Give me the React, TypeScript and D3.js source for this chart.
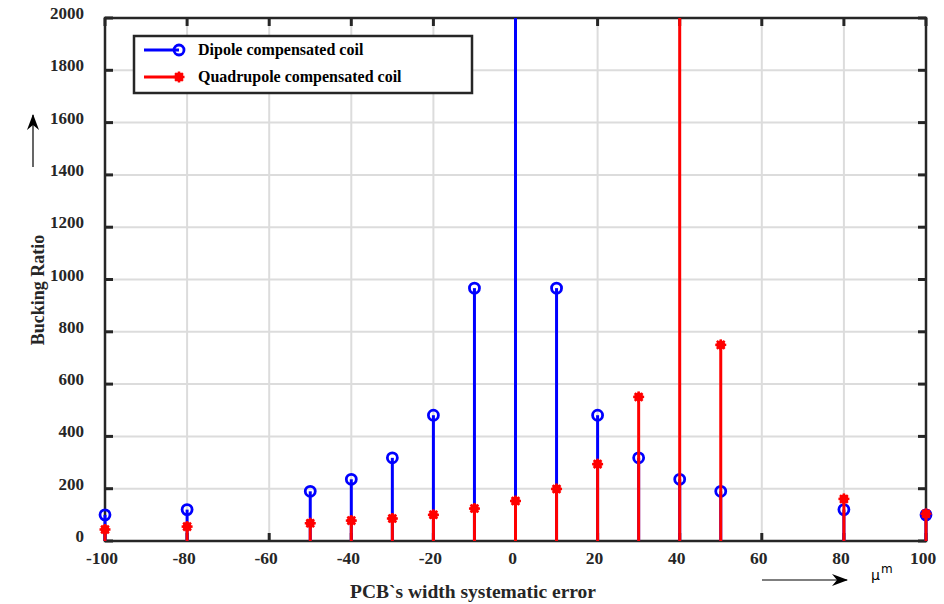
import React from "react";
import * as d3 from "d3";

const xTicks = [-100, -80, -60, -40, -20, 0, 20, 40, 60, 80, 100];
const yTicks = [0, 200, 400, 600, 800, 1000, 1200, 1400, 1600, 1800, 2000];
const errors = [-100, -80, -50, -40, -30, -20, -10, 0, 10, 20, 30, 40, 50, 80, 100];
const dipole = [100, 120, 190, 236, 318, 481, 967, 5000, 967, 481, 318, 236, 190, 120, 100];
const quadrupole = [44, 55, 68, 78, 86, 100, 124, 153, 199, 294, 551, 5000, 750, 161, 104];
const seriesNames = ["Dipole compensated coil", "Quadrupole compensated coil"];

const W = 944, H = 604;
const L = 105, R = 926, T = 18, B = 541;
const AX = "#262626";
const FONT = "'Liberation Serif', 'Times New Roman', serif";

function RedMark({ cx, cy }: { cx: number; cy: number }) {
  const r = 5.5;
  const lines = [0, 45, 90, 135].map((a) => {
    const rad = (a * Math.PI) / 180;
    return (
      <line key={a} x1={cx - r * Math.cos(rad)} y1={cy - r * Math.sin(rad)} x2={cx + r * Math.cos(rad)} y2={cy + r * Math.sin(rad)} stroke="#ff0000" strokeWidth={2.5} />
    );
  });
  return (
    <g>
      <circle cx={cx} cy={cy} r={4.5} fill="#ff0000" />
      {lines}
    </g>
  );
}

export default function App() {
  const x = d3.scaleLinear().domain([-100, 100]).range([L, R]);
  const y = d3.scaleLinear().domain([0, 2000]).range([B, T]);
  return (
    <svg width={W} height={H} style={{ position: "absolute", left: 0, top: 0, background: "#fff" }}>
      <defs>
        <clipPath id="plotclip">
          <rect x={L - 10} y={T} width={R - L + 20} height={B - T + 10} />
        </clipPath>
        <marker id="arr" viewBox="0 0 16 12" refX="15" refY="6" markerWidth="16" markerHeight="12" markerUnits="userSpaceOnUse" orient="auto">
          <path d="M0,0 L16,6 L0,12 L5,6 Z" fill="#000" />
        </marker>
      </defs>
      <rect x={0} y={0} width={W} height={H} fill="#fff" />
      {xTicks.map((t) => (
        <line key={"gx" + t} x1={x(t)} x2={x(t)} y1={T} y2={B} stroke="#dcdcdc" strokeWidth={2} />
      ))}
      {yTicks.map((t) => (
        <line key={"gy" + t} x1={L} x2={R} y1={y(t)} y2={y(t)} stroke="#dcdcdc" strokeWidth={2} />
      ))}
      {xTicks.map((t) => (
        <g key={"tx" + t}>
          <line x1={x(t)} x2={x(t)} y1={B} y2={B - 8} stroke={AX} strokeWidth={3} />
          <line x1={x(t)} x2={x(t)} y1={T} y2={T + 8} stroke={AX} strokeWidth={3} />
        </g>
      ))}
      {yTicks.map((t) => (
        <g key={"ty" + t}>
          <line x1={L} x2={L + 8} y1={y(t)} y2={y(t)} stroke={AX} strokeWidth={3} />
          <line x1={R} x2={R - 8} y1={y(t)} y2={y(t)} stroke={AX} strokeWidth={3} />
        </g>
      ))}
      <rect x={L} y={T} width={R - L} height={B - T} fill="none" stroke={AX} strokeWidth={2.5} />
      <g clipPath="url(#plotclip)">
        {errors.map((e, i) => (
          <line key={"bd" + i} x1={x(e)} x2={x(e)} y1={y(0)} y2={y(Math.min(dipole[i], 2100))} stroke="#0000ff" strokeWidth={3} />
        ))}
        {errors.map((e, i) =>
          dipole[i] <= 2000 ? (
            <circle key={"bc" + i} cx={x(e)} cy={y(dipole[i])} r={5} fill="none" stroke="#0000ff" strokeWidth={2.8} />
          ) : null
        )}
        {errors.map((e, i) => (
          <line key={"rq" + i} x1={x(e)} x2={x(e)} y1={y(0)} y2={y(Math.min(quadrupole[i], 2100))} stroke="#ff0000" strokeWidth={3} />
        ))}
        {errors.map((e, i) =>
          quadrupole[i] <= 2000 ? <RedMark key={"rm" + i} cx={x(e)} cy={y(quadrupole[i])} /> : null
        )}
      </g>
      {xTicks.map((t) => (
        <text key={"lx" + t} x={x(t) - 3} y={B + 23} textAnchor="middle" fontFamily={FONT} fontWeight="bold" fontSize={17.5} fill={AX}>
          {t}
        </text>
      ))}
      {yTicks.map((t) => (
        <text key={"ly" + t} x={L - 21} y={y(t) + 1} textAnchor="end" fontFamily={FONT} fontWeight="bold" fontSize={17} fill={AX}>
          {t}
        </text>
      ))}
      <text x={473} y={598} textAnchor="middle" fontFamily={FONT} fontWeight="bold" fontSize={19.5} fill={AX}>
        PCB`s width systematic error
      </text>
      <text transform={`translate(44,290) rotate(-90)`} textAnchor="middle" fontFamily={FONT} fontWeight="bold" fontSize={18} fill={AX}>
        Bucking Ratio
      </text>
      <line x1={762} y1={580} x2={847} y2={580} stroke="#000" strokeWidth={1.2} markerEnd="url(#arr)" />
      <line x1={33} y1={167} x2={33} y2={115} stroke="#000" strokeWidth={1.2} markerEnd="url(#arr)" />
      <text x={871} y={580} fontFamily="'DejaVu Sans', sans-serif" fontSize={14} fill="#000">μ</text>
      <text x={881} y={573} fontFamily="'DejaVu Sans', sans-serif" fontSize={12} fill="#000">m</text>
      <rect x={134} y={36} width={338} height={57} fill="#fff" stroke={AX} strokeWidth={2.5} />
      <line x1={144} x2={179} y1={50} y2={50} stroke="#0000ff" strokeWidth={3} />
      <circle cx={179} cy={50} r={5} fill="none" stroke="#0000ff" strokeWidth={2.8} />
      <line x1={144} x2={179} y1={77} y2={77} stroke="#ff0000" strokeWidth={3} />
      <RedMark cx={179} cy={77} />
      <text x={198} y={55} fontFamily={FONT} fontWeight="bold" fontSize={16} fill="#000">{seriesNames[0]}</text>
      <text x={198} y={82} fontFamily={FONT} fontWeight="bold" fontSize={16} fill="#000">{seriesNames[1]}</text>
    </svg>
  );
}
